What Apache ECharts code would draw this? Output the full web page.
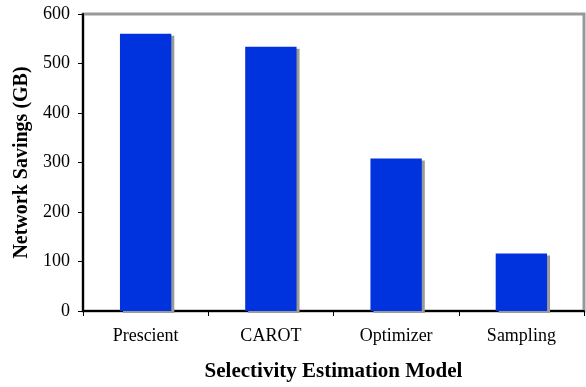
<!DOCTYPE html>
<html>
<head>
<meta charset="utf-8">
<style>
  html, body { margin: 0; padding: 0; background: #fff; }
  #chart { width: 586px; height: 387px; }
</style>
<script src="https://cdn.jsdelivr.net/npm/echarts@6/dist/echarts.min.js"></script>
</head>
<body>
<div id="chart"></div>
<script>
// Network savings per selectivity estimation model
const models = ['Prescient', 'CAROT', 'Optimizer', 'Sampling'];
const savingsGB = [560, 534, 308, 116];
const yTicks = [0, 100, 200, 300, 400, 500, 600];

const serif = '"Liberation Serif", "Times New Roman", serif';
const chart = echarts.init(document.getElementById('chart'), null, { renderer: 'canvas' });

chart.setOption({
  animation: false,
  backgroundColor: '#ffffff',
  grid: {
    left: 83, right: 2, top: 14, bottom: 73,
    show: true,
    borderColor: '#999999',
    borderWidth: 3,
    backgroundColor: '#ffffff'
  },
  xAxis: {
    type: 'category',
    data: models,
    name: 'Selectivity Estimation Model',
    nameLocation: 'middle',
    nameGap: 50,
    nameTextStyle: { fontFamily: serif, fontSize: 21, fontWeight: 'bold', color: '#000' },
    axisLine: { lineStyle: { color: '#000', width: 2 } },
    axisTick: { show: true, alignWithLabel: false, length: 5, lineStyle: { color: '#000', width: 1 } },
    axisLabel: { fontFamily: serif, fontSize: 18, color: '#000', margin: 16 },
    splitLine: { show: false }
  },
  yAxis: {
    type: 'value',
    min: yTicks[0],
    max: yTicks[yTicks.length - 1],
    interval: 100,
    name: 'Network Savings (GB)',
    nameLocation: 'middle',
    nameGap: 47,
    nameRotate: 90,
    nameTextStyle: { fontFamily: serif, fontSize: 20, fontWeight: 'bold', color: '#000' },
    axisLine: { show: true, lineStyle: { color: '#000', width: 2 } },
    axisTick: { show: true, length: 5, lineStyle: { color: '#000', width: 1 } },
    axisLabel: { fontFamily: serif, fontSize: 18, color: '#000', margin: 13 },
    splitLine: { show: false }
  },
  series: [{
    type: 'bar',
    data: savingsGB,
    barWidth: '41%',
    itemStyle: {
      color: '#0033dd',
      shadowColor: '#9a9a9a',
      shadowBlur: 0,
      shadowOffsetX: 3,
      shadowOffsetY: 2
    }
  }]
});
</script>
</body>
</html>
